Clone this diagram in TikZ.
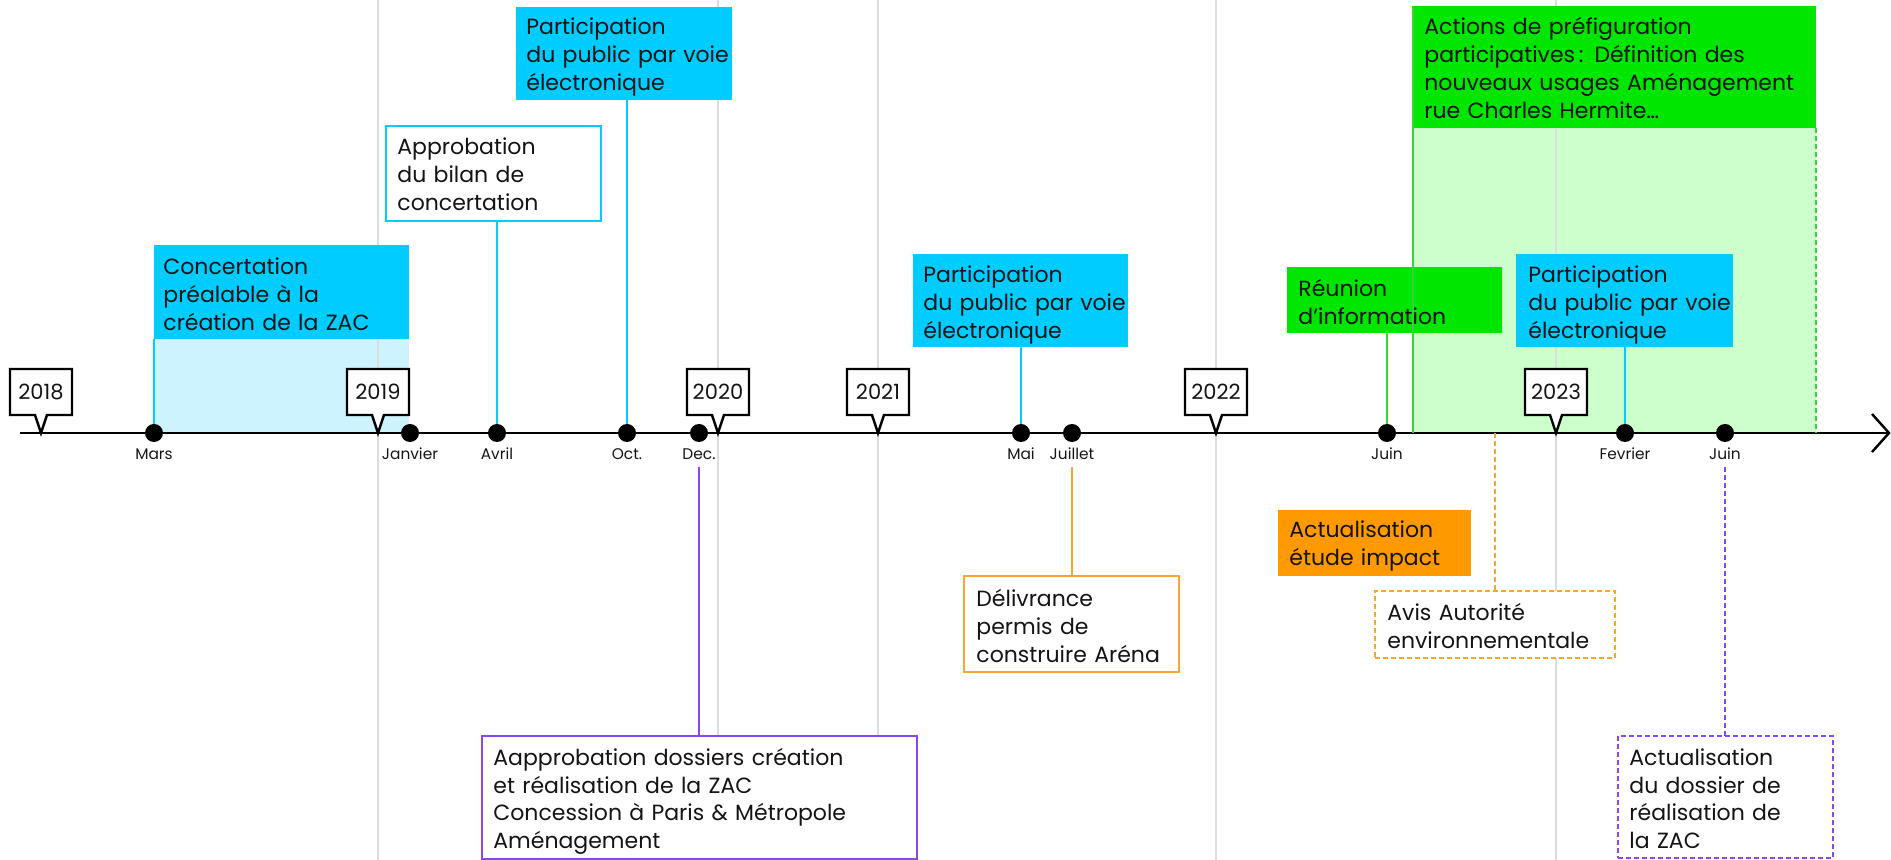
\documentclass[tikz,border=0pt]{standalone}
\usepackage{fontspec}
\setmainfont{Poppins}
\usetikzlibrary{shapes.callouts,fit}
\definecolor{ink}{HTML}{141414}
\definecolor{cyanH}{HTML}{00CCFF}
\definecolor{cyanL}{HTML}{CCF3FF}
\definecolor{greenH}{HTML}{00E600}
\definecolor{greenL}{HTML}{CCFFCC}
\definecolor{greenE}{HTML}{33D633}
\definecolor{orangeH}{HTML}{FF9900}
\definecolor{orangeE}{HTML}{F7A530}
\definecolor{purpleE}{HTML}{8A45F0}
\definecolor{gridc}{HTML}{DCDCDC}
\begin{document}
\begin{tikzpicture}[x=0.5pt,y=-0.5pt,
  txt/.style={font=\fontsize{11}{14}\selectfont, align=left, inner sep=0pt, text width=200pt, anchor=base west, text=ink},
  mon/.style={font=\fontsize{7.7}{9}\selectfont, anchor=base, inner xsep=0pt, inner ysep=3pt, text=ink},
  evdot/.style={circle, fill=black, inner sep=0pt, minimum size=9pt},
  yr/.style={rectangle callout, draw=black, fill=white, line width=1.2pt, minimum width=31pt, minimum height=23pt, inner sep=0pt, callout pointer width=6pt, font=\fontsize{10.5}{12}\selectfont, text=ink},
  area/.style={inner sep=0pt, outer sep=0pt},
  gridl/.style={draw=gridc, line width=0.7pt},
  cyanC/.style={draw=cyanH, line width=1pt},
  greenC/.style={draw=greenE, line width=1pt},
  orangeC/.style={draw=orangeE, line width=1pt},
  purpleC/.style={draw=purpleE, line width=1pt},
  dsh/.style={dash pattern=on 2.5pt off 1.5pt}
]
\useasboundingbox (0,0) rectangle (1891,860);

% light areas
\node[area, fit={(154,339) (409,433)}, fill=cyanL] (concL) {};
\node[area, fit={(1413,128) (1816,433)}, fill=greenL] (actL) {};

% grid lines
\foreach \gx in {378,718,878,1216,1556} \draw[gridl] (\gx,0) -- (\gx,860);

% timeline
\coordinate (tl0) at (20,433);
\coordinate (tl1) at (1889,433);
\draw[line width=1.3pt, draw=black] (tl0) -- (tl1);
\draw[line width=1.2pt, line join=miter] (tl1) ++(-17,-19) -- (tl1) -- ++(-17,19);

% headers and boxes
\node[area, fit={(154,245) (409,339)}, fill=cyanH] (concH) {};
\node[area, fit={(1413,6) (1816,128)}, fill=greenH] (actH) {};
\node[area, fit={(386,126) (601,221)}, fill=white, cyanC] (appr) {};
\node[area, fit={(516,7) (732,100)}, fill=cyanH] (oct) {};
\node[area, fit={(913,254) (1128,347)}, fill=cyanH] (mai) {};
\node[area, fit={(1516,254) (1733,347)}, fill=cyanH] (fev) {};
\node[area, fit={(1287,267) (1502,333)}, fill=greenH] (reu) {};
\node[area, fit={(1278,510) (1471,576)}, fill=orangeH] (etu) {};
\node[area, fit={(1375,591) (1615,658)}, fill=white, orangeC, dsh] (avis) {};
\node[area, fit={(964,576) (1179,672)}, fill=white, orangeC] (del) {};
\node[area, fit={(482,736) (917,859)}, fill=white, purpleC] (aap) {};
\node[area, fit={(1618,736) (1833,858)}, fill=white, purpleC, dsh] (dos) {};

% event dots
\node[evdot] (mars) at (154,433) {};
\node[evdot] (jan) at (410,433) {};
\node[evdot] (avr) at (497,433) {};
\node[evdot] (octd) at (627,433) {};
\node[evdot] (dec) at (699,433) {};
\node[evdot] (maid) at (1021,433) {};
\node[evdot] (jul) at (1072,433) {};
\node[evdot] (juinA) at (1387,433) {};
\node[evdot] (fevd) at (1625,433) {};
\node[evdot] (juinB) at (1725,433) {};

% month labels
\node[mon] (marsL) at (154,460) {Mars};
\node[mon] (janL) at (410,460) {Janvier};
\node[mon] (avrL) at (497,460) {Avril};
\node[mon] (octL) at (627,460) {Oct.};
\node[mon] (decL) at (699,460) {Dec.};
\node[mon] (maiL) at (1021,460) {Mai};
\node[mon] (julL) at (1072,460) {Juillet};
\node[mon] (juinAL) at (1387,460) {Juin};
\node[mon] (fevL) at (1625,460) {Fevrier};
\node[mon] (juinBL) at (1725,460) {Juin};

% connectors
\draw[cyanC] (concH.south -| mars) -- (mars.north);
\draw[cyanC] (appr.south -| avr) -- (avr.north);
\draw[cyanC] (oct.south -| octd) -- (octd.north);
\draw[cyanC] (mai.south -| maid) -- (maid.north);
\draw[cyanC] (fev.south -| fevd) -- (fevd.north);
\draw[greenC] (reu.south -| juinA) -- (juinA.north);
\draw[greenC] (actH.north west) -- (actL.south west);
\draw[greenC, dsh] (actL.north east) -- (actL.south east);
\draw[purpleC] (decL.south) -- (decL.south |- aap.north);
\draw[orangeC] (julL.south) -- (julL.south |- del.north);
\coordinate (avisP) at (1495,433);
\draw[orangeC, dsh] (avisP) -- (avisP |- avis.north);
\draw[purpleC, dsh] (juinBL.south) -- (juinBL.south |- dos.north);

% year callouts
\node[yr, callout absolute pointer={(41,433)}] (y18) at (41,392) {2018};
\node[yr, callout absolute pointer={(378,433)}] (y19) at (378,392) {2019};
\node[yr, callout absolute pointer={(718,433)}] (y20) at (718,392) {2020};
\node[yr, callout absolute pointer={(878,433)}] (y21) at (878,392) {2021};
\node[yr, callout absolute pointer={(1216,433)}] (y22) at (1216,392) {2022};
\node[yr, callout absolute pointer={(1556,433)}] (y23) at (1556,392) {2023};

% texts
\node[txt] (concT) at (163,275) {Concertation\\préalable à la\\création de la ZAC};
\node[txt] (apprT) at (397,155) {Approbation\\du bilan de\\concertation};
\node[txt] (octT) at (526,35) {Participation\\du public par voie\\électronique};
\node[txt] (maiT) at (923,283) {Participation\\du public par voie\\électronique};
\node[txt] (fevT) at (1528,283) {Participation\\du public par voie\\électronique};
\node[txt] (reuT) at (1298,297) {Réunion\\d’information};
\node[txt] (actT) at (1424,35) {Actions de préfiguration\\participatives\,: Définition des\\nouveaux usages Aménagement\\rue Charles Hermite…};
\node[txt] (etuT) at (1289,538) {Actualisation\\étude impact};
\node[txt] (avisT) at (1387,621) {Avis Autorité\\environnementale};
\node[txt] (delT) at (976,607) {Délivrance\\permis de\\construire Aréna};
\node[txt] (aapT) at (493,765) {Aapprobation dossiers création\\et réalisation de la ZAC\\Concession à Paris \& Métropole\\Aménagement};
\node[txt] (dosT) at (1629,765) {Actualisation\\du dossier de\\réalisation de\\la ZAC};
\end{tikzpicture}
\end{document}
